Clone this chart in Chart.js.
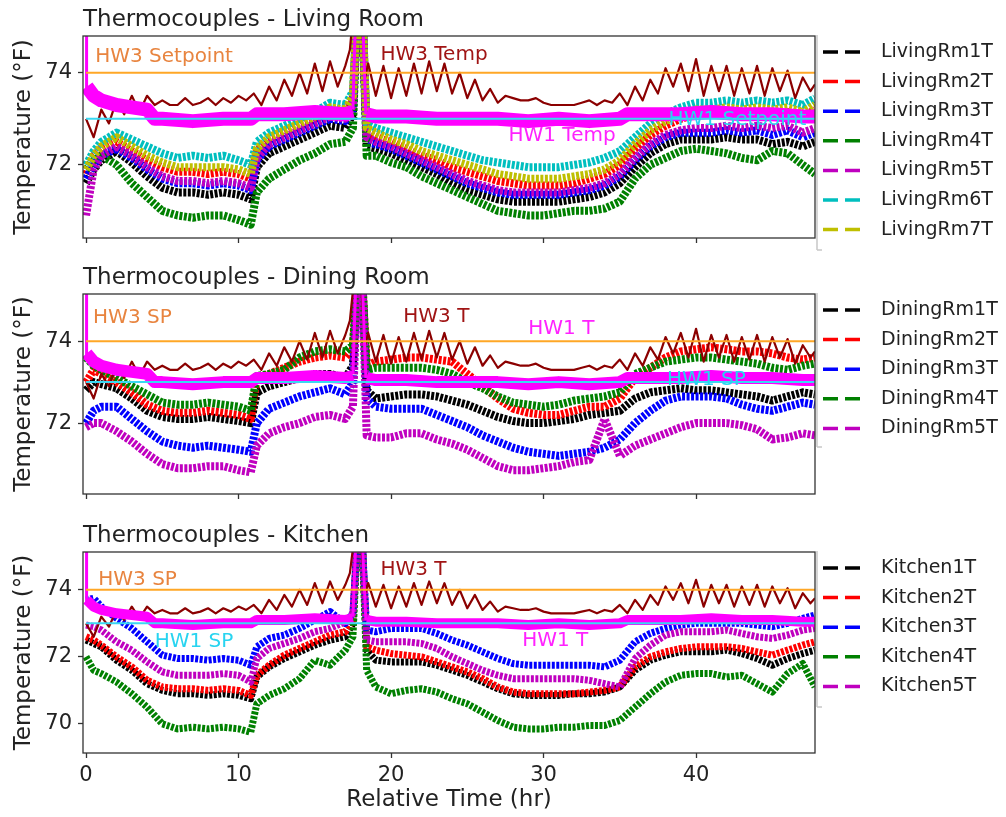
<!DOCTYPE html>
<html>
<head>
<meta charset="utf-8">
<title>Thermocouples</title>
<script src="https://cdn.jsdelivr.net/npm/chart.js@4.4.1/dist/chart.umd.min.js"></script>
<style>
    html, body { margin: 0; padding: 0; background: #ffffff; }
    #wrap { position: relative; width: 1006px; height: 817px; overflow: hidden; }
    #wrap canvas { position: absolute; left: 0; }
</style>
</head>
<body>
<div id="wrap">
    <canvas id="livingChart" width="1006" height="262" style="top:0px"></canvas>
    <canvas id="diningChart" width="1006" height="262" style="top:258px"></canvas>
    <canvas id="kitchenChart" width="1006" height="301" style="top:516px"></canvas>
</div>
<script>
// ==========================================
// DATA
// ==========================================

// shared time grid for the room sensors (hours)
const HOURS = [0, 0.5, 1,
    2, 3, 4, 5, 6, 7, 8, 9, 10,
    10.8, 11.2, 12, 13, 14, 15, 16, 17,
    17.5, 17.8, 18.1, 18.4,
    19, 20, 21, 22, 23, 24, 25, 26, 27, 28, 29, 30,
    31, 32, 33, 34, 35, 36, 37, 38, 39, 40,
    41, 42, 43, 44, 45, 46, 47, 47.8];

const X_TICKS = [0, 10, 20, 30, 40];

// Living room
const LIVING_RM1 = [71.6, 71.9, 72.1,
    72.3, 72.05, 71.75, 71.5, 71.4, 71.4, 71.35, 71.4, 71.35,
    71.25, 71.95, 72.25, 72.4, 72.55, 72.7, 72.85, 72.8,
    73.1, 75.6, 75.6, 72.4,
    72.35, 72.25, 72.1, 71.95, 71.8, 71.6, 71.45, 71.35, 71.25, 71.2, 71.2, 71.2,
    71.2, 71.25, 71.3, 71.4, 71.6, 71.95, 72.25, 72.45, 72.55, 72.55,
    72.55, 72.6, 72.55, 72.55, 72.45, 72.5, 72.4, 72.5];
const LIVING_RM2 = [71.8, 72.2, 72.35,
    72.5, 72.3, 72.1, 71.95, 71.85, 71.85, 71.8, 71.85, 71.8,
    71.7, 72.3, 72.55, 72.7, 72.85, 73.0, 73.2, 73.15,
    73.4, 75.6, 75.6, 72.7,
    72.6, 72.5, 72.35, 72.2, 72.1, 71.95, 71.85, 71.75, 71.65, 71.6, 71.55, 71.55,
    71.55, 71.6, 71.7, 71.8, 72.0, 72.35, 72.65, 72.85, 73.0, 73.1,
    73.1, 73.15, 73.1, 73.15, 73.1, 73.15, 73.05, 73.2];
const LIVING_RM3 = [71.7, 72.0, 72.2,
    72.35, 72.15, 71.9, 71.7, 71.6, 71.6, 71.55, 71.6, 71.55,
    71.45, 72.1, 72.4, 72.55, 72.7, 72.85, 73.0, 72.95,
    73.2, 75.6, 75.6, 72.5,
    72.45, 72.35, 72.2, 72.05, 71.9, 71.75, 71.6, 71.5, 71.4, 71.35, 71.35, 71.35,
    71.35, 71.4, 71.45, 71.55, 71.75, 72.1, 72.4, 72.6, 72.7, 72.7,
    72.7, 72.75, 72.7, 72.75, 72.65, 72.75, 72.6, 72.7];
const LIVING_RM4 = [71.9, 72.1, 72.2,
    72.0, 71.6, 71.3, 71.0, 70.9, 70.85, 70.9, 70.9, 70.8,
    70.7, 71.4, 71.7, 71.9, 72.1, 72.25, 72.45, 72.5,
    72.8, 75.6, 75.6, 72.2,
    72.2, 72.05, 71.95, 71.75, 71.6, 71.45, 71.3, 71.15, 71.0, 70.95, 70.9, 70.9,
    70.95, 71.0, 71.0, 71.05, 71.2, 71.7, 72.0, 72.15, 72.3, 72.35,
    72.3, 72.25, 72.15, 72.1, 72.3, 72.25, 72.0, 71.8];
const LIVING_RM5 = [70.9, 71.9, 72.2,
    72.4, 72.2, 71.95, 71.75, 71.65, 71.65, 71.6, 71.65, 71.6,
    71.5, 72.15, 72.45, 72.6, 72.75, 72.9, 73.05, 73.0,
    73.3, 75.6, 75.6, 72.6,
    72.5, 72.4, 72.25, 72.1, 71.95, 71.8, 71.65, 71.55, 71.45, 71.4, 71.4, 71.4,
    71.4, 71.45, 71.5, 71.6, 71.8, 72.15, 72.45, 72.65, 72.75, 72.8,
    72.8, 72.85, 72.8, 72.85, 72.8, 72.85, 72.7, 72.8];
const LIVING_RM6 = [72.0, 72.3, 72.5,
    72.7, 72.55, 72.4, 72.25, 72.15, 72.2, 72.15, 72.2, 72.1,
    72.0, 72.5, 72.7, 72.85, 73.0, 73.15, 73.35, 73.3,
    73.6, 75.6, 75.6, 72.9,
    72.8, 72.7, 72.6, 72.5, 72.4, 72.3, 72.2, 72.1, 72.05, 72.0, 71.95, 71.95,
    71.95, 72.0, 72.05, 72.15, 72.3, 72.6, 72.9, 73.1, 73.25, 73.35,
    73.35, 73.4, 73.35, 73.4, 73.35, 73.4, 73.3, 73.45];
const LIVING_RM7 = [71.9, 72.2, 72.4,
    72.6, 72.4, 72.2, 72.05, 71.95, 71.95, 71.95, 71.95, 71.9,
    71.8, 72.35, 72.6, 72.75, 72.9, 73.05, 73.25, 73.2,
    73.5, 75.6, 75.6, 72.8,
    72.7, 72.55, 72.45, 72.3, 72.2, 72.1, 72.0, 71.9, 71.8, 71.75, 71.7, 71.7,
    71.7, 71.75, 71.8, 71.9, 72.1, 72.45, 72.75, 72.95, 73.1, 73.2,
    73.2, 73.25, 73.2, 73.25, 73.2, 73.25, 73.15, 73.3];

// Dining room
const DINING_RM1 = [72.8, 73.0, 72.95,
    72.85, 72.6, 72.3, 72.15, 72.1, 72.1, 72.15, 72.1, 72.05,
    72.0, 72.75, 72.9, 73.0, 73.1, 73.2, 73.2, 73.1,
    73.4, 75.6, 75.6, 72.8,
    72.6, 72.65, 72.7, 72.7, 72.65, 72.55, 72.45, 72.3, 72.15, 72.05, 72.0, 72.0,
    72.05, 72.1, 72.2, 72.25, 72.3, 72.6, 72.75, 72.8, 72.85, 72.8,
    72.8, 72.75, 72.7, 72.65, 72.55, 72.65, 72.75, 72.7];
const DINING_RM2 = [73.0, 73.3, 73.2,
    73.0, 72.75, 72.45, 72.3, 72.25, 72.25, 72.3, 72.25, 72.2,
    72.1, 73.1, 73.2, 73.35, 73.5, 73.6, 73.65, 73.6,
    73.8, 75.6, 75.6, 73.4,
    73.5, 73.55, 73.6, 73.6, 73.55, 73.5, 73.2, 72.9, 72.6, 72.35, 72.25, 72.2,
    72.2, 72.3, 72.4, 72.4, 72.6, 73.1, 73.35, 73.6, 73.75, 73.8,
    73.85, 73.8, 73.75, 73.75, 73.7, 73.6, 73.55, 73.6];
const DINING_RM3 = [72.0, 72.3, 72.4,
    72.4, 72.1, 71.8, 71.55, 71.45, 71.4, 71.45, 71.4, 71.35,
    71.3, 72.0, 72.35, 72.5, 72.65, 72.75, 72.85, 72.7,
    73.0, 75.6, 75.6, 72.6,
    72.4, 72.35, 72.35, 72.35, 72.2, 72.05, 71.9, 71.7, 71.55, 71.4, 71.3, 71.25,
    71.2, 71.25, 71.3, 71.4, 71.6, 72.0, 72.3, 72.55, 72.65, 72.65,
    72.65, 72.6, 72.45, 72.35, 72.3, 72.4, 72.5, 72.45];
const DINING_RM4 = [73.6, 73.4, 73.3,
    73.1, 72.9, 72.7, 72.5, 72.45, 72.45, 72.5, 72.45, 72.4,
    72.3, 73.15, 73.2, 73.3, 73.6, 73.75, 73.8, 73.75,
    73.9, 75.6, 75.6, 73.3,
    73.35, 73.35, 73.35, 73.35, 73.3, 73.2, 73.0, 72.85, 72.65, 72.5, 72.45, 72.4,
    72.45, 72.55, 72.6, 72.65, 72.75, 73.2, 73.35, 73.5, 73.55, 73.6,
    73.6, 73.55, 73.5, 73.45, 73.35, 73.3, 73.4, 73.45];
const DINING_RM5 = [71.9, 72.0, 72.0,
    71.8, 71.55, 71.25, 71.0, 70.9, 70.9, 70.95, 70.95, 70.85,
    70.8, 71.45, 71.75, 71.9, 72.0, 72.15, 72.2, 72.1,
    72.4, 75.6, 75.6, 71.7,
    71.65, 71.65, 71.75, 71.75, 71.6, 71.5, 71.35, 71.15, 70.95, 70.85, 70.85, 70.9,
    70.95, 71.05, 71.1, 72.1, 71.2, 71.45, 71.6, 71.75, 71.9, 72.0,
    72.0, 72.0, 71.95, 71.85, 71.6, 71.65, 71.75, 71.7];

// Kitchen
const KITCHEN_1 = [72.5, 72.4, 72.3,
    71.9, 71.6, 71.2, 71.0, 70.9, 70.9, 70.85, 70.9, 70.85,
    70.75, 71.4, 71.7, 71.95, 72.15, 72.35, 72.5, 72.6,
    73.0, 75.6, 75.6, 72.2,
    71.9, 71.85, 71.85, 71.85, 71.75, 71.6, 71.45, 71.25, 71.05, 70.9, 70.85, 70.85,
    70.85, 70.9, 70.9, 70.95, 71.1, 71.6, 71.9, 72.05, 72.15, 72.15,
    72.15, 72.2, 72.1, 71.95, 71.75, 71.95, 72.1, 72.2];
const KITCHEN_2 = [72.6, 72.5, 72.35,
    72.0, 71.7, 71.3, 71.1, 71.05, 71.05, 71.0, 71.05, 71.0,
    70.85, 71.45, 71.75, 72.05, 72.25, 72.45, 72.65, 72.75,
    73.1, 75.6, 75.6, 72.3,
    72.2, 72.1, 72.05, 72.0, 71.85, 71.7, 71.55, 71.35, 71.1, 70.95, 70.9, 70.9,
    70.9, 70.9, 70.95, 71.0, 71.1, 71.7, 72.0, 72.15, 72.25, 72.3,
    72.3, 72.3, 72.25, 72.15, 72.05, 72.2, 72.35, 72.45];
const KITCHEN_3 = [73.7, 73.75, 73.5,
    73.15, 72.85, 72.45, 72.05, 71.95, 71.95, 71.9, 71.95, 71.9,
    71.75, 72.3, 72.55, 72.65, 72.85, 73.1, 73.35, 73.0,
    73.3, 75.6, 75.6, 72.8,
    72.75, 72.85, 72.85, 72.85, 72.7, 72.5, 72.35, 72.15, 71.95, 71.8, 71.75, 71.75,
    71.75, 71.75, 71.75, 71.7, 71.9, 72.45, 72.7, 72.85, 72.95, 73.0,
    73.0, 73.0, 73.0, 72.95, 72.9, 73.0, 73.15, 73.25];
const KITCHEN_4 = [72.0, 71.6, 71.5,
    71.25, 70.9, 70.5, 70.0, 69.85, 69.9, 69.85, 69.9, 69.85,
    69.75, 70.6, 70.85, 71.05, 71.35, 71.9, 71.75, 72.2,
    72.6, 75.6, 75.6, 71.6,
    71.1, 70.9, 71.0, 71.05, 70.95, 70.75, 70.6, 70.35, 70.1, 69.9, 69.85, 69.85,
    69.9, 69.9, 69.95, 69.95, 70.1, 70.5, 70.9, 71.25, 71.45, 71.5,
    71.5, 71.4, 71.45, 71.2, 70.95, 71.5, 71.8, 71.1];
const KITCHEN_5 = [72.95, 72.9, 72.8,
    72.45, 72.2, 71.85, 71.55, 71.45, 71.45, 71.45, 71.5, 71.45,
    71.25, 71.95, 72.25, 72.4, 72.55, 72.75, 72.85, 73.05,
    73.3, 75.6, 75.6, 72.5,
    72.45, 72.45, 72.45, 72.4, 72.25, 72.0, 71.8, 71.6, 71.45, 71.35, 71.35, 71.35,
    71.35, 71.35, 71.3, 71.2, 71.1, 71.95, 72.35, 72.65, 72.75, 72.75,
    72.75, 72.8, 72.7, 72.6, 72.55, 72.65, 72.8, 72.85];

// HW3 temperature (same trace in every panel), half-hour grid
const HW3_HOURS = [0, 0.5, 1, 1.5, 2, 2.5, 3, 3.5, 4, 4.5, 5, 5.5, 6, 6.5, 7, 7.5, 8, 8.5,
    9, 9.5, 10, 10.5, 11, 11.5, 12, 12.5, 13, 13.5, 14, 14.5, 15, 15.5, 16, 16.5, 17,
    17.3, 17.6, 18.0, 18.3,
    18.5, 19, 19.5, 20, 20.5, 21, 21.5, 22, 22.5, 23, 23.5, 24, 24.5, 25, 25.5, 26, 26.5,
    27, 27.5, 28, 28.5, 29, 29.5, 30, 30.5, 31, 31.5, 32, 32.5, 33, 33.5, 34, 34.5, 35,
    35.5, 36, 36.5, 37, 37.5, 38, 38.5, 39, 39.5, 40, 40.5, 41, 41.5, 42, 42.5, 43, 43.5,
    44, 44.5, 45, 45.5, 46, 46.5, 47, 47.5, 47.8];
const HW3_TEMP = [73.0, 72.6, 73.2, 72.9, 73.4, 73.1, 73.5, 73.15, 73.5, 73.3, 73.4, 73.3,
    73.3, 73.45, 73.3, 73.35, 73.45, 73.3, 73.45, 73.35, 73.5, 73.4, 73.55, 73.3, 73.7,
    73.4, 73.85, 73.5, 74.0, 73.55, 74.2, 73.6, 74.25, 73.7, 74.15,
    74.5, 75.6, 75.6, 73.9,
    74.2, 73.5, 74.15, 73.45, 74.1, 73.5, 74.2, 73.55, 74.25, 73.6, 74.2, 73.55, 74.0,
    73.45, 73.85, 73.4, 73.65, 73.35, 73.5, 73.45, 73.4, 73.4, 73.45, 73.35, 73.3, 73.3,
    73.3, 73.3, 73.35, 73.4, 73.3, 73.4, 73.35, 73.55, 73.3, 73.7, 73.4, 73.85, 73.55,
    74.1, 73.7, 74.2, 73.6, 74.3, 73.5, 74.15, 73.6, 74.15, 73.5, 74.1, 73.55, 74.15,
    73.5, 74.1, 73.6, 74.05, 73.45, 73.9, 73.6, 73.75];

// HW1 temperature band (null = gap at the spike)
const HW1_HOURS = [0.05, 0.5, 1, 2, 3, 4, 4.5, 5, 7, 9, 10.8, 11.2, 13, 15, 17, 17.5,
    17.6, 18.4, 19, 21, 23, 25, 27, 29, 31, 33, 35, 35.5, 37, 39, 41, 43, 45, 47, 47.8];
const HW1_TEMP = [73.7, 73.5, 73.4, 73.3, 73.25, 73.2, 73.0, 73.0, 72.95, 73.0, 73.0, 73.1,
    73.1, 73.15, 73.1, 73.15,
    null, 73.1, 73.05, 73.05, 73.0, 73.0, 73.0, 72.95, 73.0, 72.95, 73.0, 73.1, 73.1,
    73.1, 73.15, 73.1, 73.1, 73.05, 73.05];
// thin HW1 spikes at start-up and at ~18 h
const HW1_SPIKE_HOURS = [0, 0.02, 0.05, 1, 17.5, 17.7, 18.1, 18.35];
const HW1_SPIKE = [73.6, 75.6, 73.7, null, 73.2, 75.6, 75.6, 73.1];

// setpoints
const SP_HOURS = [0, 47.8];
const HW3_SETPOINT = [74, 74];
const HW1_SETPOINT = [73, 73];

// ==========================================
// STYLE
// ==========================================
const C_BLACK = '#000000';
const C_RED = '#ff0000';
const C_BLUE = '#0000ff';
const C_GREEN = '#008000';
const C_PURPLE = '#bf00bf';
const C_CYAN = '#00bfbf';
const C_OLIVE = '#bfbf00';
const C_HW3 = '#8b0000';
const C_HW1 = '#ff00ff';
const C_HW3_SP = '#ffa726';
const C_HW1_SP = '#3ad8f2';
const TEXT = '#222222';

Chart.defaults.font.family = '"DejaVu Sans", sans-serif';
Chart.defaults.color = TEXT;

const PANELS = [
    {
        canvas: 'livingChart',
        title: 'Thermocouples - Living Room',
        yMin: 70.41, yMax: 74.8, yTicks: [72, 74],
        xHeight: 24, showX: false,
        sensorWidth: 8, hw1Width: 14, twinLength: 214,
        sensors: [
            { label: 'LivingRm1T', values: LIVING_RM1, color: C_BLACK },
            { label: 'LivingRm2T', values: LIVING_RM2, color: C_RED },
            { label: 'LivingRm3T', values: LIVING_RM3, color: C_BLUE },
            { label: 'LivingRm4T', values: LIVING_RM4, color: C_GREEN },
            { label: 'LivingRm5T', values: LIVING_RM5, color: C_PURPLE },
            { label: 'LivingRm6T', values: LIVING_RM6, color: C_CYAN },
            { label: 'LivingRm7T', values: LIVING_RM7, color: C_OLIVE }
        ],
        notes: [
            { text: 'HW3 Setpoint', x: 0.6, y: 74.35, color: '#e8843f' },
            { text: 'HW3 Temp', x: 19.3, y: 74.39, color: '#a01414' },
            { text: 'HW1 Temp', x: 27.7, y: 72.63, color: '#ff22ff' },
            { text: 'HW1 Setpoint', x: 38.2, y: 72.98, color: '#28d4f0' }
        ]
    },
    {
        canvas: 'diningChart',
        title: 'Thermocouples - Dining Room',
        yMin: 70.27, yMax: 75.15, yTicks: [72, 74],
        xHeight: 26, showX: false,
        sensorWidth: 8, hw1Width: 12, twinLength: 153,
        sensors: [
            { label: 'DiningRm1T', values: DINING_RM1, color: C_BLACK },
            { label: 'DiningRm2T', values: DINING_RM2, color: C_RED },
            { label: 'DiningRm3T', values: DINING_RM3, color: C_BLUE },
            { label: 'DiningRm4T', values: DINING_RM4, color: C_GREEN },
            { label: 'DiningRm5T', values: DINING_RM5, color: C_PURPLE }
        ],
        notes: [
            { text: 'HW3 SP', x: 0.46, y: 74.56, color: '#e8843f' },
            { text: 'HW3 T', x: 20.8, y: 74.59, color: '#a01414' },
            { text: 'HW1 T', x: 29.0, y: 74.29, color: '#ff22ff' },
            { text: 'HW1 SP', x: 38.1, y: 73.05, color: '#28d4f0' }
        ]
    },
    {
        canvas: 'kitchenChart',
        title: 'Thermocouples - Kitchen',
        yMin: 69.13, yMax: 75.13, yTicks: [70, 72, 74],
        xHeight: 64, showX: true,
        sensorWidth: 7, hw1Width: 10, twinLength: 155,
        sensors: [
            { label: 'Kitchen1T', values: KITCHEN_1, color: C_BLACK },
            { label: 'Kitchen2T', values: KITCHEN_2, color: C_RED },
            { label: 'Kitchen3T', values: KITCHEN_3, color: C_BLUE },
            { label: 'Kitchen4T', values: KITCHEN_4, color: C_GREEN },
            { label: 'Kitchen5T', values: KITCHEN_5, color: C_PURPLE }
        ],
        notes: [
            { text: 'HW3 SP', x: 0.8, y: 74.3, color: '#e8843f' },
            { text: 'HW3 T', x: 19.3, y: 74.6, color: '#a01414' },
            { text: 'HW1 SP', x: 4.5, y: 72.45, color: '#28d4f0' },
            { text: 'HW1 T', x: 28.6, y: 72.48, color: '#ff22ff' }
        ]
    }
];

// ==========================================
// HELPERS
// ==========================================
function toPoints(hours, values) {
    return hours.map((h, i) => ({ x: h, y: values[i] }));
}

function buildDatasets(panel) {
    const sets = [];
    panel.sensors.forEach(s => {
        // noisy '--' traces read as hatched bands, so a thick short-dashed stroke
        sets.push({ label: s.label, data: toPoints(HOURS, s.values), borderColor: s.color,
            borderWidth: panel.sensorWidth, borderDash: [3, 1.5] });
    });
    sets.push({ label: 'HW3 Temp', data: toPoints(HW3_HOURS, HW3_TEMP), borderColor: C_HW3, borderWidth: 2.2 });
    sets.push({ label: 'HW1 Temp', data: toPoints(HW1_HOURS, HW1_TEMP), borderColor: C_HW1, borderWidth: panel.hw1Width });
    sets.push({ label: 'HW1 spike', data: toPoints(HW1_SPIKE_HOURS, HW1_SPIKE), borderColor: C_HW1, borderWidth: 3 });
    sets.push({ label: 'HW3 Setpoint', data: toPoints(SP_HOURS, HW3_SETPOINT), borderColor: C_HW3_SP, borderWidth: 2 });
    sets.push({ label: 'HW1 Setpoint', data: toPoints(SP_HOURS, HW1_SETPOINT), borderColor: C_HW1_SP, borderWidth: 2 });
    // later entries are painted on top (matplotlib plotting order)
    sets.forEach((d, k) => {
        d.order = 1000 - k;
        d.clip = 0;
        d.pointRadius = 0;
        d.tension = 0;
        d.fill = false;
        d.spanGaps = false;
        d.borderJoinStyle = 'round';
    });
    return sets;
}

// frame, annotation texts and the legend, drawn over the lines
function decorPlugin(panel) {
    return {
        id: 'decor_' + panel.canvas,
        afterDatasetsDraw(chart) {
            const { ctx, chartArea: a, scales } = chart;
            ctx.save();

            // leftover twin axis on the right
            ctx.strokeStyle = '#c8c8c8';
            ctx.lineWidth = 1.5;
            ctx.beginPath();
            ctx.moveTo(a.right + 2, a.top - 1);
            ctx.lineTo(a.right + 2, a.top + panel.twinLength);
            ctx.moveTo(a.right + 2, a.top + panel.twinLength);
            ctx.lineTo(a.right + 7, a.top + panel.twinLength);
            ctx.stroke();

            // axes frame
            ctx.strokeStyle = '#333333';
            ctx.lineWidth = 1.3;
            ctx.strokeRect(a.left, a.top, a.right - a.left, a.bottom - a.top);

            // in-plot labels
            ctx.font = '20px "DejaVu Sans"';
            ctx.textAlign = 'left';
            ctx.textBaseline = 'middle';
            panel.notes.forEach(n => {
                ctx.fillStyle = n.color;
                ctx.fillText(n.text, scales.x.getPixelForValue(n.x), scales.y.getPixelForValue(n.y));
            });

            // legend
            ctx.font = '19px "DejaVu Sans"';
            panel.sensors.forEach((s, i) => {
                const yy = a.top + 16 + i * 29.6;
                ctx.strokeStyle = s.color;
                ctx.lineWidth = 3.5;
                ctx.setLineDash([15, 7]);
                ctx.beginPath();
                ctx.moveTo(a.right + 8, yy);
                ctx.lineTo(a.right + 48, yy);
                ctx.stroke();
                ctx.setLineDash([]);
                ctx.fillStyle = TEXT;
                ctx.fillText(s.label, a.right + 66, yy);
            });
            ctx.restore();
        }
    };
}

function initializePanel(panel) {
    const el = document.getElementById(panel.canvas);
    new Chart(el, {
        type: 'line',
        data: { datasets: buildDatasets(panel) },
        options: {
            responsive: false,
            animation: false,
            events: [],
            layout: { padding: { left: 0, right: 191, top: 0, bottom: 0 } },
            scales: {
                x: {
                    type: 'linear',
                    min: -0.2,
                    max: 47.8,
                    afterBuildTicks: s => { s.ticks = X_TICKS.map(v => ({ value: v })); },
                    afterFit: s => { s.height = panel.xHeight; },
                    ticks: { display: panel.showX, font: { size: 21 }, padding: 5, maxRotation: 0, color: TEXT },
                    grid: { display: true, drawOnChartArea: false, drawTicks: true, tickLength: 5,
                        tickColor: '#333333', tickWidth: 1.3 },
                    border: { display: false },
                    title: { display: panel.showX, text: 'Relative Time (hr)', color: TEXT,
                        font: { size: 23, lineHeight: 1 }, padding: { top: 0, bottom: 5.5 } }
                },
                y: {
                    min: panel.yMin,
                    max: panel.yMax,
                    afterBuildTicks: s => { s.ticks = panel.yTicks.map(v => ({ value: v })); },
                    afterFit: s => { s.width = 83; },
                    ticks: { font: { size: 21 }, padding: 6, color: TEXT },
                    grid: { display: true, drawOnChartArea: false, drawTicks: true, tickLength: 5,
                        tickColor: '#333333', tickWidth: 1.3 },
                    border: { display: false },
                    title: { display: true, text: 'Temperature (°F)', color: TEXT,
                        font: { size: 23, lineHeight: 1 }, padding: { top: 12.5, bottom: 0 } }
                }
            },
            plugins: {
                legend: { display: false },
                tooltip: { enabled: false },
                title: {
                    display: true,
                    text: panel.title,
                    align: 'start',
                    fullSize: false,
                    color: TEXT,
                    font: { size: 23, weight: 'normal', lineHeight: 1 },
                    padding: { top: 9, bottom: 4 }
                }
            }
        },
        plugins: [decorPlugin(panel)]
    });
}

PANELS.forEach(initializePanel);
</script>
</body>
</html>
